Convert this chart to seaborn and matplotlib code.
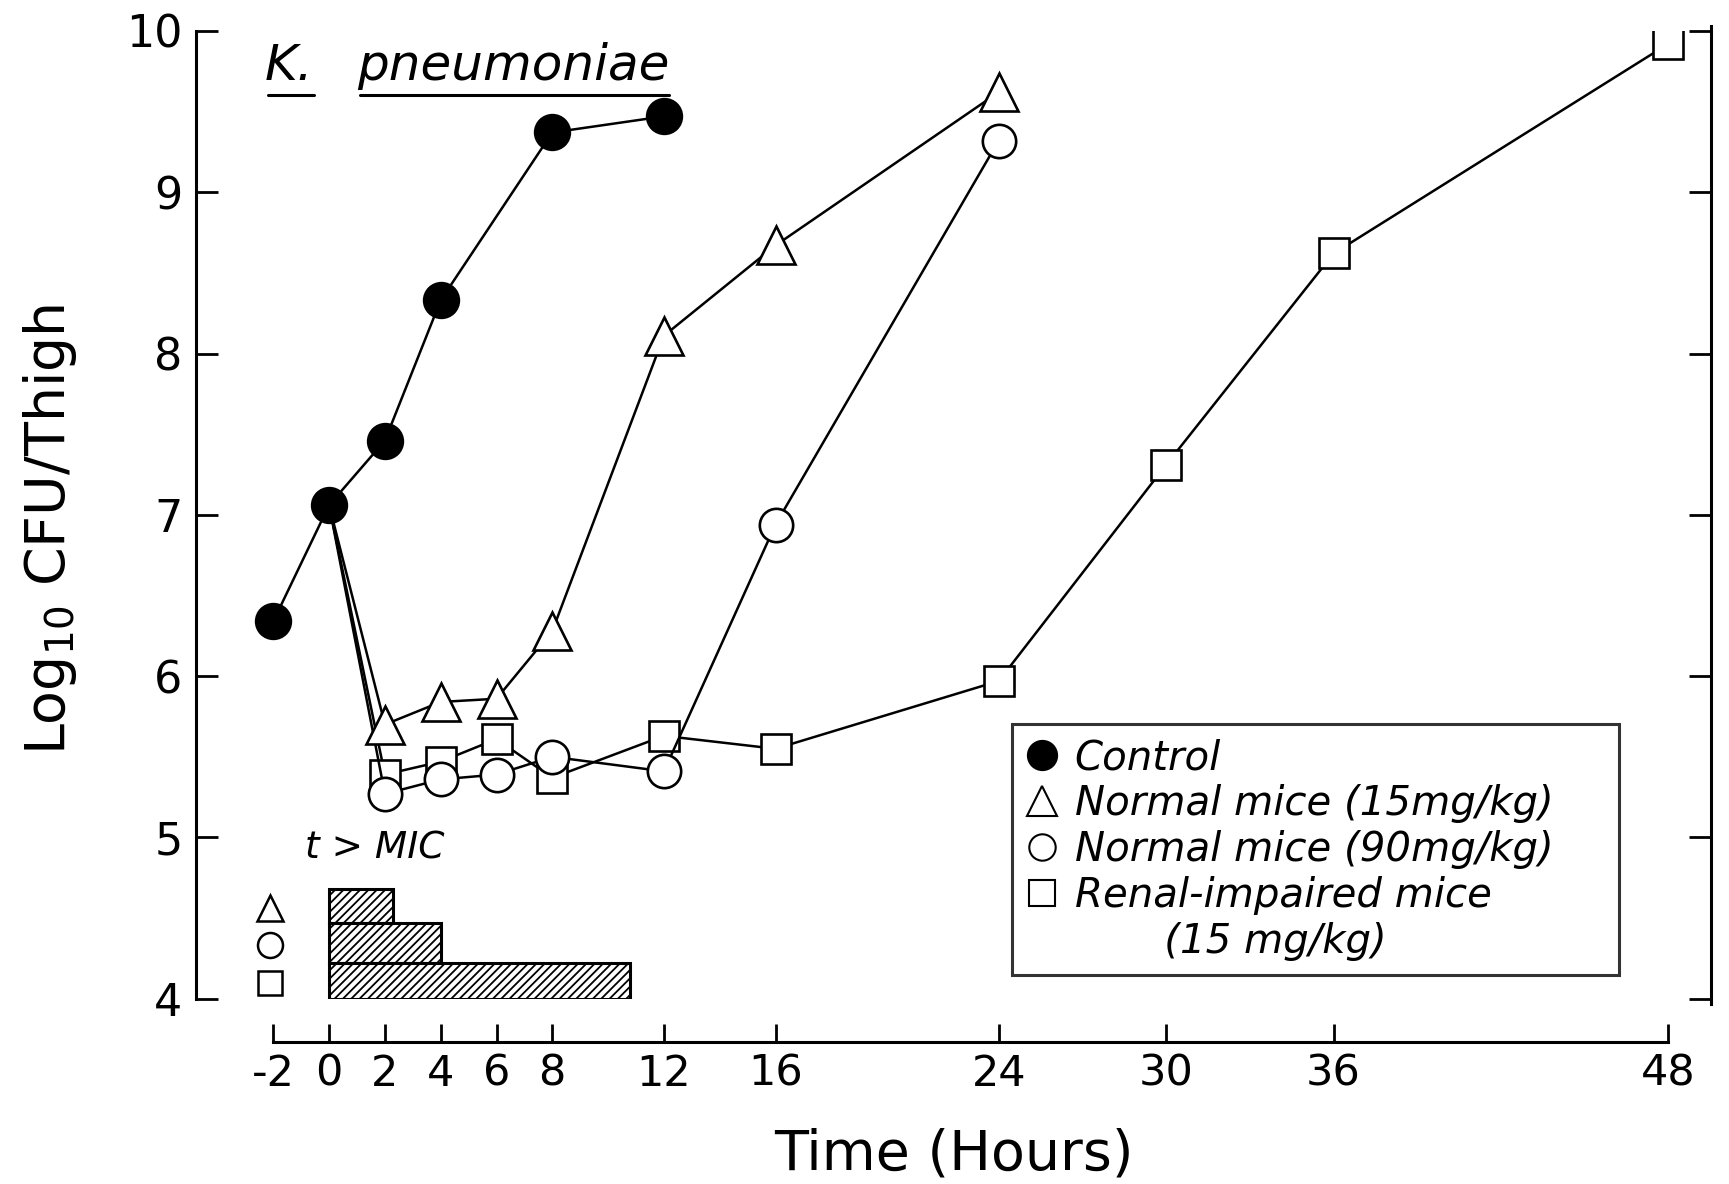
import numpy as np
import pandas as pd
import seaborn as sns
import matplotlib
matplotlib.use("Agg")
import matplotlib.pyplot as plt
from matplotlib.lines import Line2D

# ---------------- data ----------------
control_t = [-2, 0, 2, 4, 8, 12]
control_v = [6.34, 7.06, 7.46, 8.33, 9.37, 9.47]

tri_t = [0, 2, 4, 6, 8, 12, 16, 24]
tri_v = [7.06, 5.70, 5.84, 5.86, 6.28, 8.11, 8.67, 9.62]

circ_t = [0, 2, 4, 6, 8, 12, 16, 24]
circ_v = [7.06, 5.27, 5.36, 5.39, 5.50, 5.41, 6.94, 9.32]

sq_t = [0, 2, 4, 6, 8, 12, 16, 24, 30, 36, 48]
sq_v = [7.06, 5.39, 5.47, 5.61, 5.37, 5.63, 5.55, 5.97, 7.31, 8.62, 9.92]

series_labels = ["Control", "Normal mice (15mg/kg)", "Normal mice (90mg/kg)    ",
                 "Renal-impaired mice", "       (15 mg/kg)"]

# time above MIC (hours) for triangle, circle, square groups
mic_groups = ["tri", "circ", "sq"]
mic_hours = [2.3, 4.0, 10.8]
mic_bottom = [4.47, 4.22, 4.0]
mic_top = [4.68, 4.47, 4.22]

x_ticks = [-2, 0, 2, 4, 6, 8, 12, 16, 24, 30, 36, 48]
y_ticks = [4, 5, 6, 7, 8, 9, 10]

# ---------------- style ----------------
sns.set_theme(style="white")
plt.rcParams["font.family"] = ["DejaVu Sans"]
plt.rcParams["text.color"] = "black"
plt.rcParams["axes.labelcolor"] = "black"
plt.rcParams["xtick.color"] = "black"
plt.rcParams["ytick.color"] = "black"
plt.rcParams["hatch.linewidth"] = 1.3
plt.rcParams["hatch.color"] = "black"

fig = plt.figure(figsize=(17.29, 11.84), dpi=100)
ax = fig.add_axes([178 / 1568, 1 - 906 / 1074, (1552 - 178) / 1568, (906 - 28) / 1074])
ax.set_facecolor("white")
fig.patch.set_facecolor("white")

LW = 1.8
MEW = 1.9

df_c = pd.DataFrame({"t": control_t, "v": control_v})
df_t = pd.DataFrame({"t": tri_t, "v": tri_v})
df_o = pd.DataFrame({"t": circ_t, "v": circ_v})
df_s = pd.DataFrame({"t": sq_t, "v": sq_v})

common = dict(x="t", y="v", estimator=None, sort=False, color="black", linewidth=LW, ax=ax)

sns.lineplot(data=df_s, marker="s", markersize=22, markerfacecolor="white",
             markeredgecolor="black", markeredgewidth=MEW, markevery=slice(1, None),
             zorder=3, **common)
sns.lineplot(data=df_o, marker="o", markersize=24, markerfacecolor="white",
             markeredgecolor="black", markeredgewidth=MEW, markevery=slice(1, None),
             zorder=4, **common)
sns.lineplot(data=df_t, marker="^", markersize=27, markerfacecolor="white",
             markeredgecolor="black", markeredgewidth=MEW, markevery=slice(1, None),
             zorder=5, **common)
sns.lineplot(data=df_c, marker="o", markersize=25, markerfacecolor="black",
             markeredgecolor="black", markeredgewidth=MEW, zorder=6, **common)

# t > MIC hatched bars
for h, b, tp in zip(mic_hours, mic_bottom, mic_top):
    ax.barh(b, h, height=tp - b, left=0, align="edge", facecolor="white",
            edgecolor="black", hatch="////", linewidth=2.2, zorder=2)

# key symbols next to bars
key_markers = {"tri": "^", "circ": "o", "sq": "s"}
key_sizes = {"tri": 19, "circ": 18, "sq": 17}
for g, b, tp in zip(mic_groups, mic_bottom, mic_top):
    ax.plot([-2.1], [(b + tp) / 2 - 0.01], marker=key_markers[g], ms=key_sizes[g],
            mfc="white", mec="black", mew=1.8, ls="none", clip_on=False)

ax.text(-0.85, 4.93, "t > MIC", fontsize=27, style="italic", ha="left", va="center")

# title (underlined)
t1 = ax.text(-2.3, 9.78, "K.", fontsize=36, style="italic", ha="left", va="center")
t2 = ax.text(1.0, 9.78, "pneumoniae", fontsize=36, style="italic", ha="left", va="center")

# axes limits / spines
ax.set_xlim(-4.76, 49.54)
ax.set_ylim(4, 10)
ax.set_xticks(x_ticks)
ax.set_xticklabels([str(v) for v in x_ticks])
ax.set_yticks(y_ticks)
ax.set_yticklabels([str(v) for v in y_ticks])
ax.set_xlabel("")
ax.set_ylabel("")

for s in ["left", "right", "bottom"]:
    ax.spines[s].set_visible(True)
    ax.spines[s].set_color("black")
    ax.spines[s].set_linewidth(2.2)
ax.spines["top"].set_visible(False)
ax.spines["bottom"].set_position(("outward", 31))
ax.spines["bottom"].set_bounds(-2, 48)
ax.spines["left"].set_bounds(4, 10)
ax.spines["right"].set_bounds(3.97, 10.03)

ax.tick_params(axis="y", which="both", left=True, right=True, direction="in",
               length=16, width=2.0, labelsize=32, pad=10, colors="black")
ax.tick_params(axis="x", which="both", bottom=True, direction="in",
               length=13, width=2.0, labelsize=31, pad=8, colors="black")

# legend
handles = [
    Line2D([], [], marker="o", ls="none", ms=21, mfc="black", mec="black", mew=1.5),
    Line2D([], [], marker="^", ls="none", ms=21, mfc="white", mec="black", mew=1.5),
    Line2D([], [], marker="o", ls="none", ms=19, mfc="white", mec="black", mew=1.5),
    Line2D([], [], marker="s", ls="none", ms=19, mfc="white", mec="black", mew=1.5),
    Line2D([], [], ls="none"),
]
leg = fig.legend(handles, series_labels, loc="upper left",
                 bbox_to_anchor=(918 / 1568, 1 - 657 / 1074),
                 prop={"style": "italic", "size": 29}, frameon=True, fancybox=False,
                 edgecolor="black", handlelength=0.8, handletextpad=0.4,
                 labelspacing=0.17, borderpad=0.35, borderaxespad=0)
leg.get_frame().set_linewidth(2.2)

# axis labels
fig.text(0.029, 1 - 480 / 1074, r"Log$_{\mathregular{10}}$ CFU/Thigh", rotation=90,
         fontsize=40, ha="center", va="center")
fig.text(865 / 1568, 1 - 1047 / 1074, "Time (Hours)", fontsize=40, ha="center", va="center")

# underline the title pieces
fig.canvas.draw()
inv = fig.transFigure.inverted()
for t in (t1, t2):
    bb = t.get_window_extent()
    (x0, y0), (x1, _) = inv.transform([(bb.x0, bb.y0), (bb.x1, bb.y1)])
    fig.add_artist(Line2D([x0 + 0.002, x1], [y0 - 0.004, y0 - 0.004], color="black",
                          lw=2.2, transform=fig.transFigure))

fig.savefig("out.png", dpi=100, facecolor="white")
